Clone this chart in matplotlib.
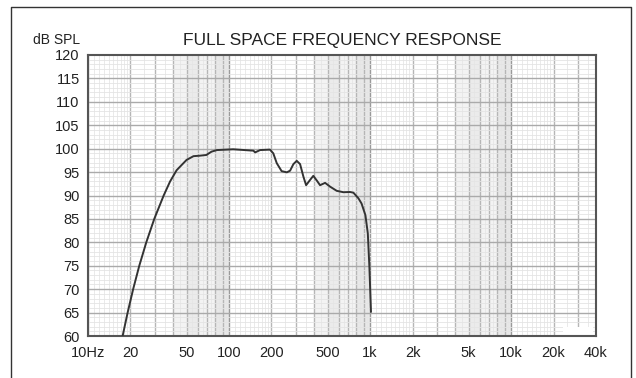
import numpy as np
import matplotlib.pyplot as plt
from matplotlib.lines import Line2D
from matplotlib.patches import Rectangle

plt.rcParams['font.family'] = ['Liberation Sans', 'DejaVu Sans']

# response (Hz, dB SPL)
freq = [17.6, 19.1, 20.9, 23.1, 25.9, 29.5, 34.4, 38.2, 42.5, 50, 56, 62, 69, 75, 82,
        107, 149, 153, 166, 195, 206, 218, 236, 257, 271, 286, 302, 319, 337, 352,
        375, 396, 419, 442, 480, 520, 580, 647, 721, 762, 827, 870, 927, 964, 989, 1015]
spl = [60, 65, 70, 75, 80, 85, 90, 93.0, 95.4, 97.6, 98.4, 98.5, 98.65, 99.35, 99.7,
       99.87, 99.57, 99.2, 99.7, 99.8, 99.0, 96.9, 95.2, 94.95, 95.3, 96.7, 97.4, 96.7,
       94.0, 92.2, 93.3, 94.2, 93.2, 92.2, 92.7, 91.9, 91.0, 90.7, 90.75, 90.6, 89.4,
       88.3, 85.8, 81.9, 74.8, 65.2]

xticks = [10, 20, 50, 100, 200, 500, 1000, 2000, 5000, 10000, 20000, 40000]
xlabels = ['10Hz', '20', '50', '100', '200', '500', '1k', '2k', '5k', '10k', '20k', '40k']
yticks = list(range(60, 121, 5))

fig = plt.figure(figsize=(6.36, 3.78), dpi=100)
ax = fig.add_axes([88 / 636, 42 / 378, 508 / 636, 281 / 378])
ax.set_xscale('log')
ax.set_xlim(10, 40000)
ax.set_ylim(60, 120)

# graph paper: shaded bands and grid
for d in [10, 100, 1000, 10000]:
    ax.axvspan(4 * d, 10 * d, color='#f3f3f3', lw=0, zorder=0)
    ax.axvspan(5 * d, 6 * d, color='#ebebeb', lw=0, zorder=0)
    ax.axvspan(8 * d, 10 * d, color='#e8e8e8', lw=0, zorder=0)
    for m in [1.1, 1.2, 1.3, 1.4, 1.5, 1.6, 1.7, 1.8, 1.9, 2.5, 3.5, 4.5, 5.5, 6.5, 7.5, 8.5, 9.5]:
        if m * d < 40000:
            ax.axvline(m * d, color='#e6e6e6', lw=0.6, zorder=1)
    for m in range(1, 10):
        if m * d < 40000:
            c = '#9a9a9a' if m == 1 else '#b6b6b6'
            ax.axvline(m * d, color=c, lw=1.0, zorder=1)
for v in range(61, 120):
    if v % 5:
        ax.axhline(v, color='#e4e4e4', lw=0.6, zorder=1)
for v in yticks[1:-1]:
    ax.axhline(v, color='#aaaaaa', lw=1.0, zorder=1)

ax.plot(freq, spl, color='#333333', lw=1.4, zorder=3)

ax.add_patch(Rectangle((0.936, 0.0), 0.058, 0.033, transform=ax.transAxes,
                       facecolor='white', edgecolor='none', zorder=2))

ax.set_xticks(xticks)
ax.set_xticklabels(xlabels)
ax.xaxis.set_minor_locator(plt.NullLocator())
ax.set_yticks(yticks)
ax.tick_params(length=0, labelsize=10.5, colors='#222222')
ax.tick_params(axis='x', pad=7)
ax.tick_params(axis='y', pad=6)
for s in ax.spines.values():
    s.set_color('#555555')
    s.set_linewidth(1.5)

fig.text(342 / 636, 1 - 40 / 378, 'FULL SPACE FREQUENCY RESPONSE', ha='center', va='center',
         fontsize=12.5, color='#222222')
fig.text(80 / 636, 1 - 40 / 378, 'dB SPL', ha='right', va='center', fontsize=10, color='#222222')

# outer frame (open at bottom)
fw, fh = 636, 378
fig.add_artist(Line2D([11 / fw, 11 / fw, 631 / fw, 631 / fw], [0, 1 - 7 / fh, 1 - 7 / fh, 0],
                      transform=fig.transFigure, color='#333333', lw=1.0))

fig.savefig('out.png', dpi=100)
